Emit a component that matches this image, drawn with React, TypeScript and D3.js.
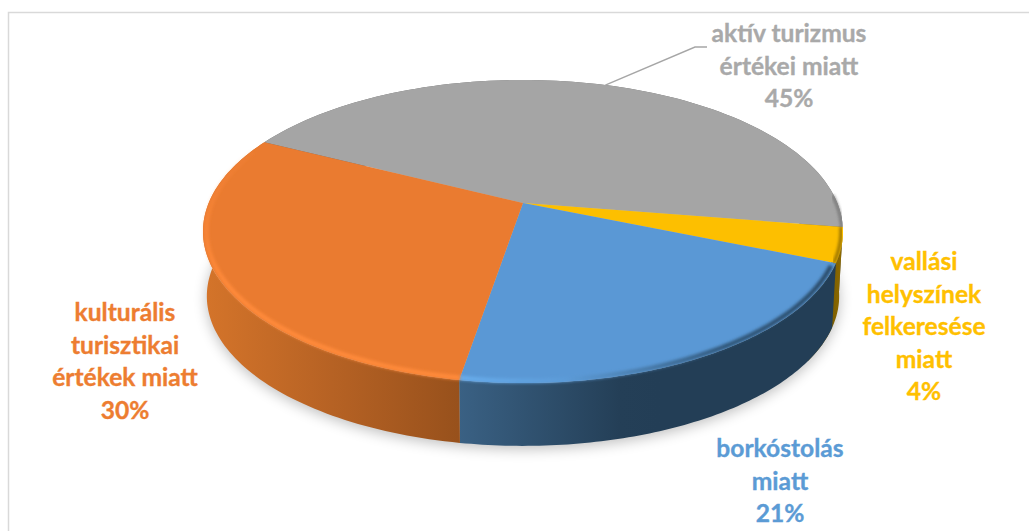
import React from "react";
import * as d3 from "d3";

// ---- data
const categories = ["aktív turizmus értékei miatt", "vallási helyszínek felkeresése miatt", "borkóstolás miatt", "kulturális turisztikai értékek miatt"];
const values = [45.1, 3.7, 21.4, 29.8];
const labelLines = [
  ["aktív turizmus", "értékei miatt", "45%"],
  ["vallási", "helyszínek", "felkeresése", "miatt", "4%"],
  ["borkóstolás", "miatt", "21%"],
  ["kulturális", "turisztikai", "értékek miatt", "30%"],
];

// ---- styles / layout
const colors = ["#a5a5a5", "#fdbf00", "#5a98d5", "#ea7b30"];
const labelColors = ["#a9a9a9", "#ffc000", "#5b9bd5", "#ed7d31"];
const labelCenters = [789, 924, 780, 125];
const labelFirstBase = [42, 270, 457, 321];
const lineStep = 32.5;
const W = 1029, H = 531;
const CX = 523, CY = 203, A = 314.3, B = 146.2, K = 0.188, DEPTH = 65;
const START = (296.8 * Math.PI) / 180;

function project(theta: number, r = 1, drop = 0): [number, number] {
  const X = r * Math.sin(theta), Y = r * Math.cos(theta);
  const w = 1 + K * Y;
  const s = 1 - (drop / DEPTH) * 0.012;
  return [CX + (s * A * X) / w, CY + drop - (s * B * Y) / w];
}

function samples(a0: number, a1: number, n = 90) {
  return d3.range(n + 1).map((i) => a0 + ((a1 - a0) * i) / n);
}

const line = d3.line<[number, number]>().x((d) => d[0]).y((d) => d[1]);

const arcs = d3.pie<number>().sort(null).startAngle(START).endAngle(START + 2 * Math.PI)(values);

function topPath(a0: number, a1: number) {
  const pts = samples(a0, a1).map((t) => project(t));
  return line([[CX, CY], ...pts])! + "Z";
}
function wallPath(a0: number, a1: number) {
  const up = samples(a0, a1).map((t) => project(t));
  const dn = samples(a1, a0).map((t) => project(t, 1, DEPTH));
  return line([...up, ...dn])! + "Z";
}
function rimPath(a0: number, a1: number, r: number) {
  return line(samples(a0, a1).map((t) => project(t, r)))!;
}

const full = samples(0, 2 * Math.PI, 240);
const shadowPath = line(full.map((t) => project(t, 1.0, DEPTH + 3)))! + "Z";

const [gray, yellow, blue, orange] = arcs;
const leaderStart = project((gray.startAngle + gray.endAngle) / 2);

export default function App() {
  return (
    <svg width={W} height={H} viewBox={`0 0 ${W} ${H}`} style={{ position: "absolute", left: 0, top: 0, display: "block", background: "#fff" }}>
      <defs>
        <filter id="shadow" x="-10%" y="-20%" width="120%" height="140%"><feGaussianBlur stdDeviation="7" /></filter>
        <filter id="soft" x="-5%" y="-5%" width="110%" height="110%"><feGaussianBlur stdDeviation="1.5" /></filter>
        <linearGradient id="wallOrange" gradientUnits="userSpaceOnUse" x1={205} x2={458} y1={0} y2={0}>
          <stop offset="0" stopColor="#d4742a" />
          <stop offset="0.5" stopColor="#b66224" />
          <stop offset="1" stopColor="#98511c" />
        </linearGradient>
        <linearGradient id="wallBlue" gradientUnits="userSpaceOnUse" x1={458} x2={660} y1={0} y2={0}>
          <stop offset="0" stopColor="#3a6184" />
          <stop offset="0.8" stopColor="#243f57" />
          <stop offset="1" stopColor="#233e56" />
        </linearGradient>
        <linearGradient id="wallYellow" gradientUnits="userSpaceOnUse" x1={825} x2={845} y1={0} y2={0}>
          <stop offset="0" stopColor="#6f5300" />
          <stop offset="1" stopColor="#947000" />
        </linearGradient>
        <linearGradient id="rimBlue" gradientUnits="userSpaceOnUse" x1={458} x2={840} y1={0} y2={0}>
          <stop offset="0" stopColor="#68adec" />
          <stop offset="0.28" stopColor="#5c9bd8" />
          <stop offset="0.42" stopColor="#4f86b9" />
          <stop offset="0.7" stopColor="#2f5577" />
          <stop offset="1" stopColor="#2a4a68" />
        </linearGradient>
        <linearGradient id="rimOrange" gradientUnits="userSpaceOnUse" x1={0} x2={0} y1={150} y2={290}>
          <stop offset="0" stopColor="#ff8a3a" stopOpacity={0.1} />
          <stop offset="1" stopColor="#ff8a3a" stopOpacity={1} />
        </linearGradient>
      </defs>

      <path d={`M8.5 531V12.5H${W}`} fill="none" stroke="#d9d9d9" strokeWidth={1.5} />

      <path d={shadowPath} fill="#000" opacity={0.26} filter="url(#shadow)" />

      <path d={wallPath(gray.startAngle, gray.endAngle)} fill="#6e6e6e" />
      <path d={wallPath(yellow.startAngle, yellow.endAngle + 0.22)} fill="url(#wallYellow)" />
      <path d={wallPath(blue.startAngle, blue.endAngle)} fill="url(#wallBlue)" />
      <path d={wallPath(orange.startAngle, orange.endAngle)} fill="url(#wallOrange)" />

      {arcs.map((a, i) => (
        <path key={categories[i]} d={topPath(a.startAngle, a.endAngle)} fill={colors[i]} />
      ))}

      <path d={rimPath(blue.startAngle + 0.02, blue.endAngle, 0.99)} fill="none" stroke="url(#rimBlue)" strokeWidth={4.5} filter="url(#soft)" />
      <path d={rimPath(orange.startAngle, orange.endAngle - 0.08, 0.99)} fill="none" stroke="url(#rimOrange)" strokeWidth={4.5} filter="url(#soft)" />
      <path d={rimPath(yellow.startAngle, yellow.endAngle, 0.994)} fill="none" stroke="#8d6b00" strokeWidth={3} filter="url(#soft)" />
      <path d={rimPath(gray.startAngle + 2.62, gray.endAngle, 0.996)} fill="none" stroke="#707070" strokeWidth={2.5} filter="url(#soft)" />

      <path
        d={line([leaderStart, [695, 47], [707, 47]])!}
        fill="none"
        stroke="#a6a6a6"
        strokeWidth={1.4}
      />

      {labelLines.map((lines, i) => (
        <text key={i} textAnchor="middle" fontFamily="Lato, 'Open Sans', sans-serif" fontWeight={700} fontSize={24.6} fill={labelColors[i]} stroke={labelColors[i]} strokeWidth={0.35}>
          {lines.map((t, j) => (
            <tspan key={j} x={labelCenters[i]} y={labelFirstBase[i] + j * lineStep}>{t}</tspan>
          ))}
        </text>
      ))}
    </svg>
  );
}
